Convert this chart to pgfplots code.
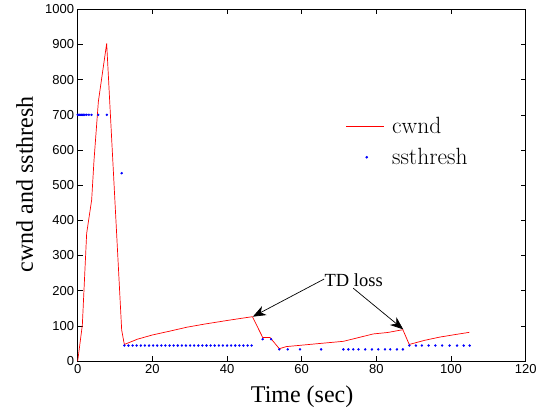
\documentclass[border=0pt]{standalone}
\usepackage{fontspec}
\usepackage{pgfplots}
\pgfplotsset{compat=1.18}
\usetikzlibrary{arrows.meta}
\newfontfamily\timesf{Liberation Serif}
\newfontfamily\helv{Liberation Sans}
\begin{document}
\begin{tikzpicture}
\begin{axis}[
  at={(77.7pt,51pt)}, anchor=south west,
  scale only axis, width=448pt, height=351.7pt,
  xmin=0, xmax=120, ymin=0, ymax=1000,
  xtick={0,20,...,120}, ytick={0,100,...,1000},
  tick align=inside, major tick length=5pt,
  axis line style={line width=0.8pt},
  every tick/.style={black, line width=0.6pt},
  /pgf/number format/assume math mode=true,
  /pgf/number format/1000 sep={},
  ticklabel style={font=\helv\fontsize{13}{15}\selectfont},
  xlabel={Time (sec)}, ylabel={cwnd and ssthresh},
  xlabel style={font=\timesf\fontsize{24}{28}\selectfont, at={(axis description cs:0.501,-0.1194)}, anchor=base},
  ylabel style={font=\timesf\fontsize{24}{28}\selectfont, at={(axis description cs:-0.0998,0.503)}, anchor=base},
  legend style={draw=none, fill=none, at={(axis description cs:0.591,0.704)}, anchor=north west,
    font=\fontsize{23.5}{28}\selectfont, row sep=9pt},
  legend cell align=left,
  clip=false,
]
\addplot[red, line width=0.7pt,
  legend image code/.code={\draw[red, line width=0.9pt] (0pt,0pt) -- (38pt,0pt); \path[draw=none] (0pt,0pt) -- (44pt,0pt);}]
coordinates {
(0,0) (1.24,102) (2.40,363) (3.74,458) (4.37,571) (5.53,737) (7.76,903)
(11.78,88) (12.49,47) (16,62) (20,74) (24.7,85) (29.2,96) (34,105) (39.9,115)
(43,120) (46.8,126) (49.55,67) (51.5,67) (54.0,35) (55.9,41) (60,45) (65,50)
(71.2,56) (75,66) (79.2,77) (83,81) (87.1,89) (88.8,47) (93,59) (97,68)
(101,75) (104.9,81.5)
};
\addlegendentry{cwnd}
\addplot[only marks, blue, mark=*, mark size=1pt,
  legend image code/.code={\fill[blue] (20.6pt,0pt) circle (1.1pt); \path[draw=none] (0pt,0pt) -- (44pt,0pt);}]
coordinates {
(0,700) (0.3,700) (0.6,700) (0.9,700) (1.2,700) (1.5,700) (1.9,700) (2.4,700)
(3.0,700) (3.7,700) (5.5,700) (7.8,700)
(11.78,534)
(12.5,44) (13.6,44) (14.7,44) (15.8,44) (16.9,44) (18.0,44) (19.1,44) (20.2,44)
(21.3,44) (22.4,44) (23.5,44) (24.6,44) (25.7,44) (26.8,44) (27.9,44) (29.0,44)
(30.1,44) (31.2,44) (32.3,44) (33.4,44) (34.5,44) (35.6,44) (36.7,44) (37.8,44)
(38.9,44) (40.0,44) (41.1,44) (42.2,44) (43.3,44) (44.4,44) (45.5,44) (46.6,44)
(49.55,62) (51.8,62)
(54.0,33) (56.25,33) (59.55,33) (65.2,33)
(71.16,33) (72.5,33) (73.8,33) (75.2,33) (77.0,33) (78.8,33) (80.5,33) (82.3,33)
(83.7,33) (85.5,33) (87.1,33)
(88.84,44) (90.6,44) (92.2,44) (94.0,44) (95.8,44) (97.6,44) (99.6,44) (101.6,44)
(103.4,44) (105.0,44)
};
\addlegendentry{ssthresh}
\node[font=\timesf\fontsize{18.5}{22}\selectfont, anchor=base west, inner sep=0pt] at (axis cs:66.1,213) {TD loss};
\draw[-{Stealth[length=13pt,width=10pt,inset=4pt]}, line width=0.7pt] (axis cs:66.0,233) -- (axis cs:46.9,126);
\draw[-{Stealth[length=13pt,width=10pt,inset=4pt]}, line width=0.7pt] (axis cs:73.8,207) -- (axis cs:87.2,90);
\end{axis}
\pgfresetboundingbox
\path (0,0) rectangle (548pt,412pt);
\end{tikzpicture}
\end{document}
